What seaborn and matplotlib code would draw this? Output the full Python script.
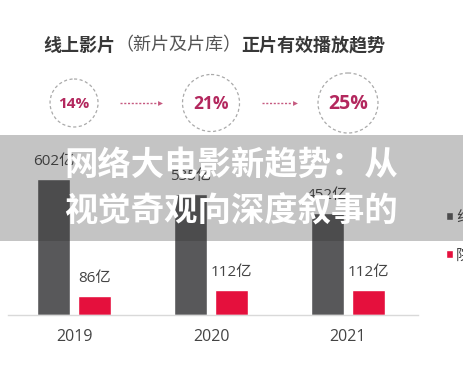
import matplotlib
matplotlib.use("Agg")

import pandas as pd
import seaborn as sns
from matplotlib import pyplot as plt
from matplotlib.patches import Circle, Rectangle

# chart data
years = ["2019", "2020", "2021"]
series = ["线上影片", "院线电影"]
total_views = [602, 535, 452]      # 亿
share_views = [86, 112, 112]       # 亿
share_pct = ["14%", "21%", "25%"]

title_parts = ["线上影片", "（新片及片库）", "正片有效播放趋势"]
banner_lines = ["网络大电影新趋势：从", "视觉奇观向深度叙事的"]

W, H = 464, 374
GRAY = "#58585a"
RED = "#e5103d"
PINK = "#b3285e"

sns.set_style("white")
plt.rcParams["font.family"] = ["Open Sans", "Noto Sans CJK SC", "DejaVu Sans"]

df = pd.DataFrame({
    "year": years * 2,
    "series": [series[0]] * 3 + [series[1]] * 3,
    "value": total_views + share_views,
})

fig = plt.figure(figsize=(W / 100, H / 100), dpi=100)
fig.patch.set_facecolor("white")

# bar axes: baseline at y=315px, spans x 8..418px
ax = fig.add_axes([8 / W, (H - 315) / H, 410 / W, 195 / H])
sns.barplot(data=df, x="year", y="value", hue="series",
            palette=[GRAY, RED], saturation=1, width=0.6, gap=0.2, ax=ax)
ax.set_xlim(-0.482, 2.511)
ax.set_ylim(0, 195 * 602 / 136)
ax.set_xlabel("")
ax.set_ylabel("")
ax.set_yticks([])
for side in ["left", "right", "top"]:
    ax.spines[side].set_visible(False)
ax.spines["bottom"].set_color("#d9d9d9")
ax.spines["bottom"].set_linewidth(1)
ax.tick_params(axis="x", length=0, pad=10, labelsize=11.5, labelcolor="#444444")
ax.set_facecolor("none")

vals = [total_views, share_views]
for cont, v in zip(ax.containers, vals):
    ax.bar_label(cont, labels=[f"{x}亿" for x in v], padding=7,
                 fontsize=11, color="#444444")

handles, labels = ax.get_legend_handles_labels()
ax.legend(handles, labels, loc="center left",
          bbox_to_anchor=(446 / W, 1 - 237 / H), bbox_transform=fig.transFigure,
          frameon=False, fontsize=11, handlelength=0.45, handleheight=0.45,
          handletextpad=0.2, labelspacing=1.5, borderpad=0, borderaxespad=0,
          labelcolor="#444444")

# overlay axes in pixel coordinates (y down)
ov = fig.add_axes([0, 0, 1, 1])
ov.set_xlim(0, W)
ov.set_ylim(H, 0)
ov.axis("off")

# title in three segments
fig.canvas.draw()
renderer = fig.canvas.get_renderer()
x0 = 43
styles = [("bold", "#383838"), ("normal", "#555555"), ("bold", "#383838")]
for part, (weight, col) in zip(title_parts, styles):
    t = ov.text(x0, 45, part, ha="left", va="center", fontsize=13,
                fontweight=weight, color=col,
                family=["Noto Sans CJK SC", "DejaVu Sans"])
    bb = t.get_window_extent(renderer)
    x0 += bb.width

# share circles above each group
centers = [ax.transData.transform((i, 0))[0] for i in range(len(years))]
radii = [24, 28.5, 30]
sizes = [11, 12.5, 14]
cy = 103
for cx, r, s, pct in zip(centers, radii, sizes, share_pct):
    ov.add_patch(Circle((cx, cy), r, fill=False, ec="#aaaaaa", lw=0.9,
                        ls=(0, (2.5, 2))))
    ov.text(cx, cy + 1, pct, ha="center", va="center", fontsize=s,
            fontweight="bold", color=PINK)

# dotted arrows between circles
for a, b, ra, rb in zip(centers[:-1], centers[1:], radii[:-1], radii[1:]):
    xs = a + ra + 22
    xe = b - rb - 23
    ov.plot([xs, xe - 3], [cy, cy], ls=(0, (1.5, 1.2)), color="#c65a80", lw=1)
    ov.plot([xe], [cy], marker=">", ms=3.5, color="#c65a80", mec="none")

# semi-transparent banner
ov.add_patch(Rectangle((0, 135), W, 106, fc="#2e2e2e", alpha=0.28, ec="none"))
for y, line in zip([165, 212], banner_lines):
    ov.text(231, y, line, ha="center", va="center", fontsize=24,
            fontweight="bold", color="white",
            family=["Noto Sans CJK SC", "DejaVu Sans"])

fig.savefig("out.png", dpi=100)
